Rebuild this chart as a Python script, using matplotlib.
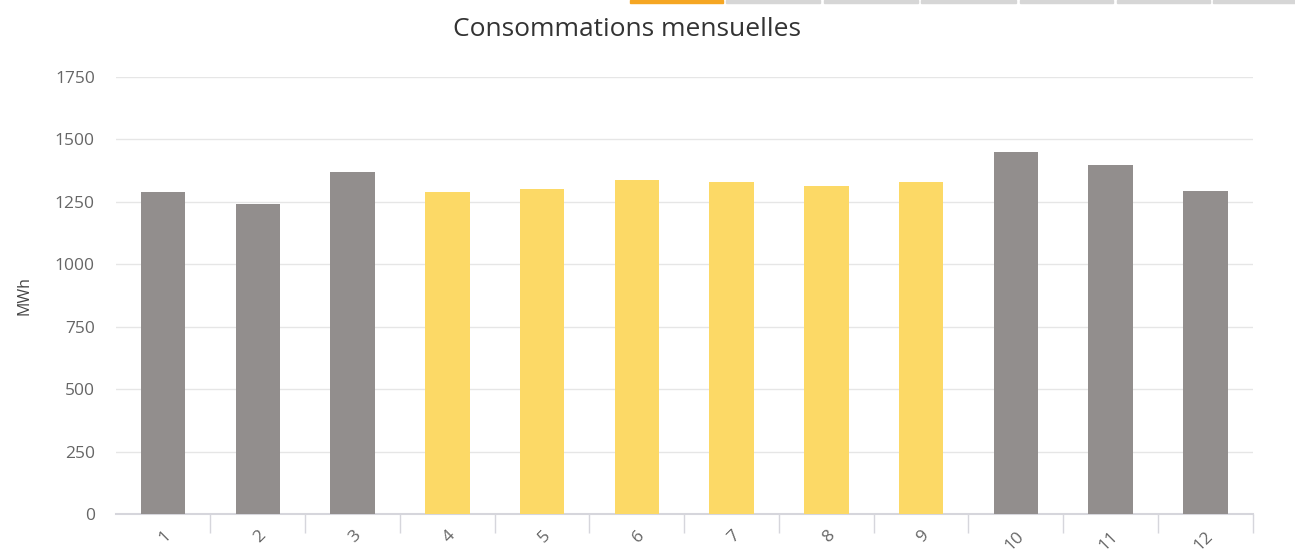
import numpy as np
import matplotlib.pyplot as plt
from matplotlib.patches import Rectangle

# Monthly consumption (MWh)
months = ["1", "2", "3", "4", "5", "6", "7", "8", "9", "10", "11", "12"]
consumption = [1288, 1242, 1370, 1290, 1302, 1336, 1329, 1312, 1329, 1450, 1398, 1294]
summer = [False, False, False, True, True, True, True, True, True, False, False, False]
y_ticks = [0, 250, 500, 750, 1000, 1250, 1500, 1750]

GREY = "#928e8d"
YELLOW = "#fcd966"
AXIS = "#d6d6dc"
plt.rcParams["font.family"] = ["Open Sans", "DejaVu Sans"]

W, H = 1295, 560
fig = plt.figure(figsize=(W / 100, H / 100), dpi=100)

# axes placed in pixel units
left, right, top, bottom = 115.7, 1252.7, 77, 514
ax = fig.add_axes([left / W, (H - bottom) / H, (right - left) / W, (bottom - top) / H])

x = np.arange(1, len(months) + 1)
colors = [YELLOW if s else GREY for s in summer]
ax.bar(x, consumption, width=0.47, color=colors, zorder=3)

ax.set_xlim(0.5, 12.5)
ax.set_ylim(0, 1750)
ax.set_yticks(y_ticks)
ax.set_yticklabels([str(v) for v in y_ticks], color="#666666", fontsize=12.5)
ax.yaxis.grid(True, color="#e6e6e6", lw=1, zorder=0)
ax.tick_params(axis="y", length=0, pad=15)

ax.set_xticks(x)
ax.set_xticklabels(months, rotation=45, ha="right", va="top",
                   rotation_mode="anchor", color="#666666", fontsize=12.5)
ax.tick_params(axis="x", which="major", length=0, pad=10)
ax.set_xticks(np.arange(1.5, 13, 1.0), minor=True)
ax.tick_params(axis="x", which="minor", length=14, width=1, color=AXIS)

for s in ["top", "right", "left"]:
    ax.spines[s].set_visible(False)
ax.spines["bottom"].set_color(AXIS)
ax.spines["bottom"].set_linewidth(1.5)

ax.set_ylabel("MWh", color="#444444", fontsize=11.5, labelpad=16)

fig.text(627 / W, 1 - 30 / H, "Consommations mensuelles", ha="center", va="center",
         fontsize=19, color="#333333")

# tab strip at top of the page
tabs = [(630, 723, "#f5a623"), (726, 820, "#d6d6d6"), (824, 918, "#d6d6d6"),
        (921, 1016, "#d6d6d6"), (1020, 1113, "#d6d6d6"), (1117, 1210, "#d6d6d6"),
        (1213, 1295, "#d6d6d6")]
for x0, x1, c in tabs:
    fig.patches.append(Rectangle((x0 / W, 1 - 3 / H), (x1 - x0) / W, 3 / H,
                                 transform=fig.transFigure, color=c))

fig.savefig("out.png", dpi=100)
